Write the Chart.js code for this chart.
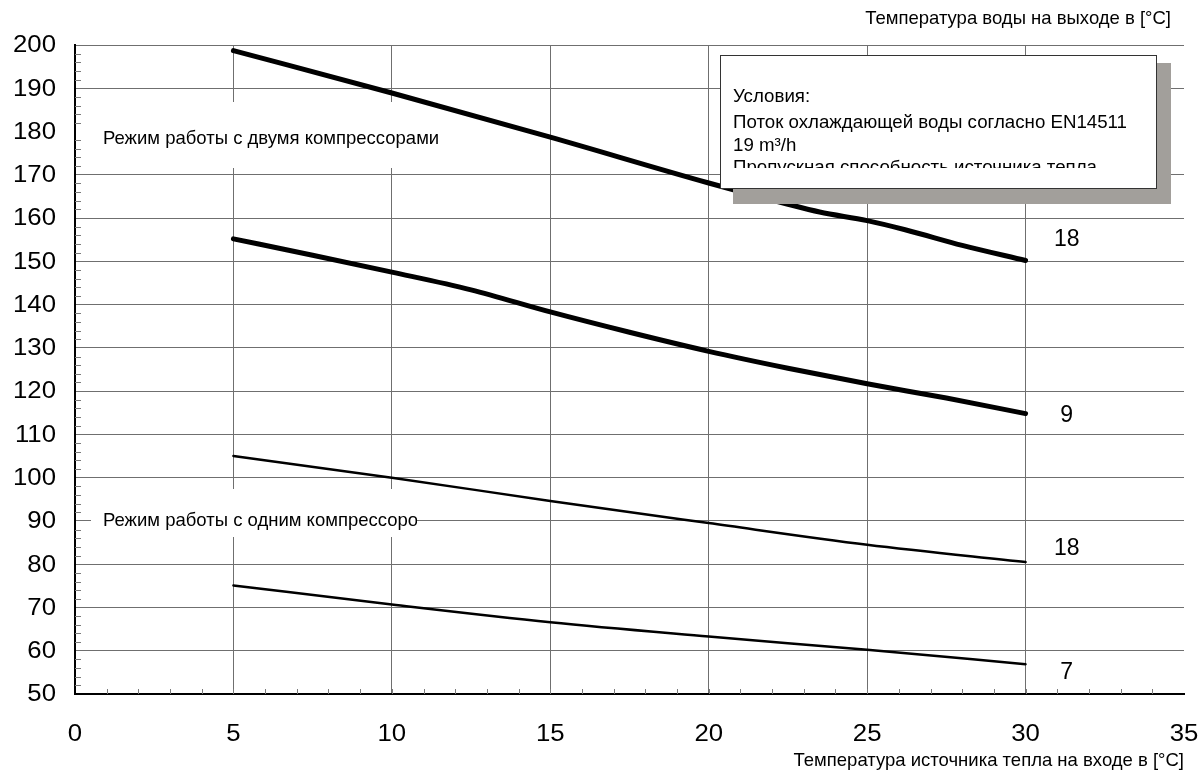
<!DOCTYPE html>
<html>
<head>
<meta charset="utf-8">
<script src="https://cdn.jsdelivr.net/npm/chart.js@4/dist/chart.umd.min.js"></script>
<style>
  html, body { margin: 0; padding: 0; background: #fff; }
  #wrap { width: 1204px; height: 783px; position: relative; }
</style>
</head>
<body>
<div id="wrap"><canvas id="c" width="1204" height="783"></canvas></div>
<script>
// Outlet water temperature vs. heat-source inlet temperature
const FONT = '"Liberation Sans", Arial, Helvetica, sans-serif';

const xTicks = [0, 5, 10, 15, 20, 25, 30, 35];
const yTicks = [50, 60, 70, 80, 90, 100, 110, 120, 130, 140, 150, 160, 170, 180, 190, 200];

// Two-compressor operation, 18 and 9
const xTwo18 = [5, 10, 15, 20, 22.5, 23.5, 25, 26.2, 28, 30];
const yTwo18 = [198.7, 188.9, 178.7, 168.1, 163.2, 161.4, 159.4, 157.3, 153.7, 150.2];
const xTwo9  = [5, 7.5, 10, 12.5, 15, 17.5, 20, 22.5, 25, 27.5, 30];
const yTwo9  = [155.2, 151.4, 147.5, 143.4, 138.3, 133.6, 129.2, 125.3, 121.7, 118.4, 114.8];

// One-compressor operation, 18 and 7
const xOne   = [5, 10, 15, 20, 25, 30];
const yOne18 = [105.0, 100.0, 94.6, 89.5, 84.5, 80.5];
const yOne7  = [75.1, 70.7, 66.6, 63.3, 60.2, 56.9];

const curveLabels = ['18', '9', '18', '7'];

const yAxisTitle = 'Температура воды на выходе в [°C]';
const xAxisTitle = 'Температура источника тепла на входе в [°C]';
const modeTwo = 'Режим работы с двумя компрессорами';
const modeOne = 'Режим работы с одним компрессором';
const infoLines = [
  'Условия:',
  'Поток охлаждающей воды согласно EN14511',
  '19 m³/h',
  'Пропускная способность источника тепла'
];

const pts = (xs, ys) => xs.map((x, i) => ({ x, y: ys[i] }));

function series(xs, ys, width) {
  return {
    data: pts(xs, ys),
    borderColor: '#000',
    borderWidth: width,
    pointRadius: 0,
    fill: false,
    cubicInterpolationMode: 'monotone',
    borderCapStyle: 'round',
    borderJoinStyle: 'round'
  };
}

// tick numbers are set in a slightly widened face
function wideText(ctx, text, px, py, align) {
  ctx.save();
  ctx.translate(px, py);
  ctx.scale(1.12, 1);
  ctx.textAlign = align;
  ctx.fillText(text, 0, 0);
  ctx.restore();
}

const decorations = {
  id: 'decorations',
  beforeDatasetsDraw(chart) {
    const { ctx, scales: { x, y }, chartArea: a } = chart;
    ctx.save();
    // minor ticks on both axes
    ctx.strokeStyle = '#7a7a7a';
    ctx.lineWidth = 1;
    ctx.beginPath();
    for (let v = 1; v < 35; v++) {
      const px = Math.round(x.getPixelForValue(v)) + 0.5;
      ctx.moveTo(px, a.bottom);
      ctx.lineTo(px, a.bottom - 5);
    }
    for (let v = 52; v < 200; v += 2) {
      if (v % 10 === 0) continue;
      const py = Math.round(y.getPixelForValue(v)) + 0.5;
      ctx.moveTo(a.left, py);
      ctx.lineTo(a.left + 6, py);
    }
    ctx.stroke();

    // operating-mode captions on white panels
    ctx.fillStyle = '#fff';
    ctx.fillRect(90, 102, 365, 66);
    ctx.fillRect(91, 489, 326, 48);
    ctx.fillStyle = '#000';
    ctx.font = '18.5px ' + FONT;
    ctx.textBaseline = 'middle';
    ctx.textAlign = 'left';
    ctx.fillText(modeTwo, 103, 139);
    ctx.save();
    ctx.beginPath();
    ctx.rect(91, 489, 326, 48);
    ctx.clip();
    ctx.fillText(modeOne, 103, 521);
    ctx.restore();
    ctx.restore();
  },
  afterDatasetsDraw(chart) {
    const { ctx, scales: { x, y } } = chart;
    ctx.save();
    // conditions panel with shadow
    ctx.fillStyle = '#a29f9b';
    ctx.fillRect(733, 63, 438, 141);
    ctx.fillStyle = '#fff';
    ctx.fillRect(720, 55, 437, 134);
    ctx.strokeStyle = '#333';
    ctx.lineWidth = 1;
    ctx.strokeRect(720.5, 55.5, 436, 133);
    ctx.save();
    ctx.beginPath();
    ctx.rect(721, 56, 435, 112);
    ctx.clip();
    ctx.fillStyle = '#000';
    ctx.font = '18.7px ' + FONT;
    ctx.textBaseline = 'alphabetic';
    ctx.textAlign = 'left';
    const baselines = [101.5, 128, 150.5, 173];
    infoLines.forEach((t, i) => ctx.fillText(t, 733, baselines[i]));
    ctx.restore();

    // curve captions at the right end of each line
    const anchors = [155.0, 114.3, 83.5, 54.9];
    ctx.fillStyle = '#000';
    ctx.font = '23px ' + FONT;
    ctx.textAlign = 'center';
    ctx.textBaseline = 'middle';
    curveLabels.forEach((t, i) => {
      ctx.fillText(t, x.getPixelForValue(31.3), y.getPixelForValue(anchors[i]));
    });

    // tick numbers from the chart's own scales
    ctx.font = '23px ' + FONT;
    ctx.textBaseline = 'middle';
    x.ticks.forEach(t => wideText(ctx, String(t.value), x.getPixelForValue(t.value), 735, 'center'));
    y.ticks.forEach(t => wideText(ctx, String(t.value), 56, y.getPixelForValue(t.value) + 1, 'right'));

    // axis titles
    ctx.font = '18.5px ' + FONT;
    ctx.textAlign = 'right';
    ctx.fillText(yAxisTitle, 1171, 19);
    ctx.fillText(xAxisTitle, 1184, 761);
    ctx.restore();
  }
};

new Chart(document.getElementById('c'), {
  type: 'line',
  data: {
    datasets: [
      series(xTwo18, yTwo18, 5),
      series(xTwo9, yTwo9, 5),
      series(xOne, yOne18, 2.5),
      series(xOne, yOne7, 2.5)
    ]
  },
  options: {
    responsive: false,
    animation: false,
    devicePixelRatio: 1,
    layout: { padding: { top: 45, right: 20, left: 0, bottom: 0 } },
    plugins: { legend: { display: false }, tooltip: { enabled: false } },
    scales: {
      x: {
        type: 'linear',
        min: 0,
        max: 35,
        afterBuildTicks: s => { s.ticks = xTicks.map(v => ({ value: v })); },
        afterFit: s => { s.height = 89; s.paddingLeft = 0; s.paddingRight = 0; },
        ticks: { display: false },
        grid: {
          drawTicks: false,
          lineWidth: 1,
          color: c => (c.tick && (c.tick.value === 0 || c.tick.value === 35)) ? 'rgba(0,0,0,0)' : '#6f6f6f'
        },
        border: { color: '#000', width: 2 }
      },
      y: {
        type: 'linear',
        min: 50,
        max: 200,
        afterBuildTicks: s => { s.ticks = yTicks.map(v => ({ value: v })); },
        afterFit: s => { s.width = 75; s.paddingTop = 0; s.paddingBottom = 0; },
        ticks: { display: false },
        grid: {
          drawTicks: false,
          lineWidth: 1,
          color: c => (c.tick && (c.tick.value === 50 || c.tick.value === 180)) ? 'rgba(0,0,0,0)' : '#6f6f6f'
        },
        border: { color: '#000', width: 2 }
      }
    }
  },
  plugins: [decorations]
});
</script>
</body>
</html>
